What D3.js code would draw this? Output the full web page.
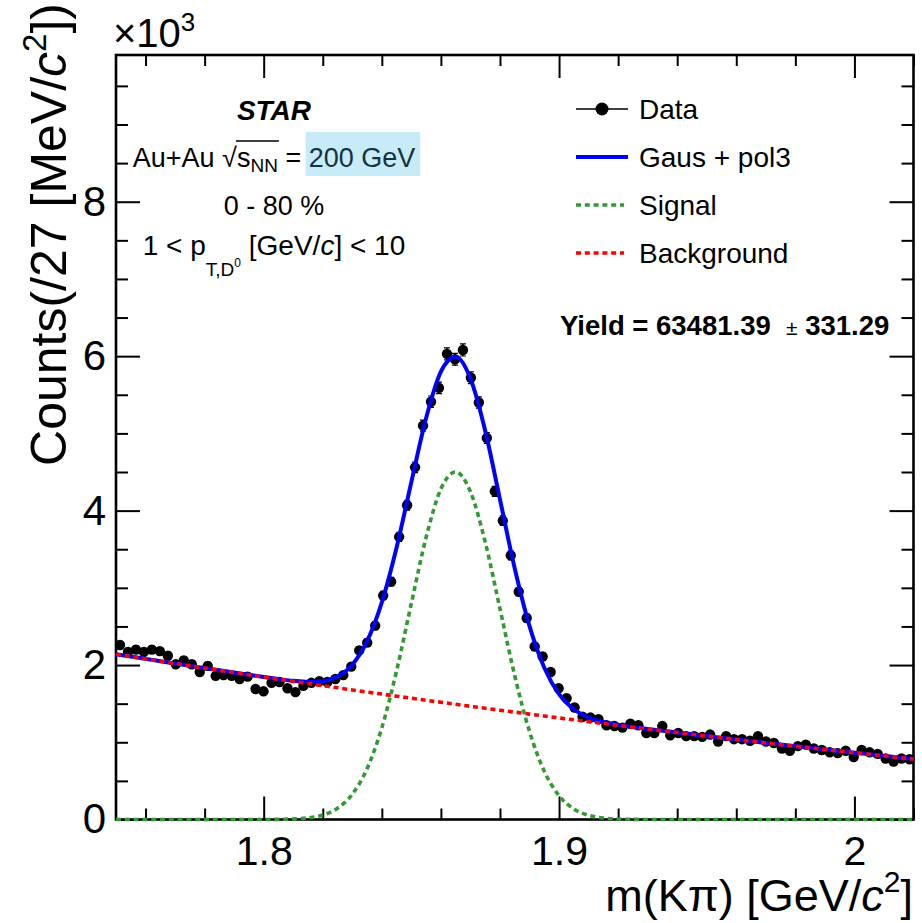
<!DOCTYPE html>
<html>
<head>
<meta charset="utf-8">
<script src="https://cdn.jsdelivr.net/npm/d3@7"></script>
<style>
body { margin: 0; background: #fff; }
svg { display: block; }
text { font-family: "Liberation Sans", Arial, Helvetica, sans-serif; fill: #000; }
</style>
</head>
<body>
<svg width="922" height="923"></svg>
<script>
// invariant mass histogram, 100 bins of 2.7 MeV from 1.75 to 2.02 GeV (counts in units of 10^3)
var massLo = 1.75, massHi = 2.02, binW = 0.0027;
var counts = [2.26, 2.17, 2.20, 2.17, 2.20, 2.18, 2.12, 2.01, 2.06, 2.01,
              1.91, 1.99, 1.86, 1.87, 1.86, 1.82, 1.85, 1.69, 1.66, 1.77,
              1.78, 1.70, 1.65, 1.73, 1.77, 1.79, 1.78, 1.82, 1.87, 1.98,
              2.19, 2.29, 2.51, 2.90, 3.08, 3.66, 4.07, 4.56, 5.10, 5.41,
              5.59, 6.03, 5.96, 6.08, 5.72, 5.40, 4.94, 4.25, 3.87, 3.42,
              2.95, 2.61, 2.24, 2.11, 1.91, 1.70, 1.57, 1.45, 1.33, 1.32,
              1.30, 1.22, 1.21, 1.19, 1.24, 1.22, 1.12, 1.12, 1.21, 1.09,
              1.12, 1.08, 1.08, 1.07, 1.10, 1.01, 1.08, 1.04, 1.04, 1.02,
              1.08, 1.01, 0.99, 0.92, 0.89, 0.95, 0.97, 0.92, 0.90, 0.87,
              0.86, 0.89, 0.81, 0.90, 0.87, 0.85, 0.79, 0.75, 0.79, 0.78];
var errs = [0.048, 0.047, 0.047, 0.047, 0.047, 0.047, 0.046, 0.045, 0.045, 0.045,
            0.044, 0.045, 0.043, 0.043, 0.043, 0.043, 0.043, 0.041, 0.041, 0.042,
            0.042, 0.041, 0.041, 0.042, 0.042, 0.042, 0.042, 0.043, 0.043, 0.044,
            0.047, 0.048, 0.050, 0.054, 0.055, 0.060, 0.064, 0.068, 0.071, 0.074,
            0.075, 0.078, 0.077, 0.078, 0.076, 0.073, 0.070, 0.065, 0.062, 0.058,
            0.054, 0.051, 0.047, 0.046, 0.044, 0.041, 0.040, 0.038, 0.036, 0.036,
            0.036, 0.035, 0.035, 0.034, 0.035, 0.035, 0.033, 0.033, 0.035, 0.033,
            0.033, 0.033, 0.033, 0.033, 0.033, 0.032, 0.033, 0.032, 0.032, 0.032,
            0.033, 0.032, 0.031, 0.030, 0.030, 0.031, 0.031, 0.030, 0.030, 0.029,
            0.029, 0.030, 0.028, 0.030, 0.029, 0.029, 0.028, 0.027, 0.028, 0.028];

// fit curves, read every 5 MeV from 1.75 to 2.02
var fitStep = 0.005;
var fitTotal = [2.140, 2.110, 2.080, 2.050, 2.020, 1.990, 1.961, 1.932, 1.903, 1.874,
                1.845, 1.819, 1.796, 1.782, 1.791, 1.851, 2.005, 2.309, 2.813, 3.523,
                4.371, 5.199, 5.799, 5.992, 5.710, 5.033, 4.144, 3.251, 2.504, 1.965,
                1.623, 1.427, 1.321, 1.262, 1.225, 1.197, 1.172, 1.149, 1.126, 1.103,
                1.080, 1.058, 1.036, 1.014, 0.992, 0.970, 0.949, 0.928, 0.907, 0.886,
                0.865, 0.845, 0.824, 0.804, 0.783];
var fitSignal = [0, 0, 0, 0, 0, 0, 0, 0, 0, 0,
                 0, 0.002, 0.007, 0.021, 0.058, 0.146, 0.327, 0.658, 1.189, 1.926,
                 2.801, 3.655, 4.281, 4.500, 4.244, 3.593, 2.729, 1.861, 1.139, 0.625,
                 0.308, 0.136, 0.054, 0.019, 0.006, 0.002, 0, 0, 0, 0,
                 0, 0, 0, 0, 0, 0, 0, 0, 0, 0,
                 0, 0, 0, 0, 0];
var fitBkg = [2.140, 2.110, 2.080, 2.050, 2.020, 1.990, 1.961, 1.932, 1.903, 1.874,
              1.845, 1.817, 1.789, 1.761, 1.733, 1.705, 1.678, 1.651, 1.624, 1.597,
              1.570, 1.544, 1.518, 1.492, 1.466, 1.440, 1.415, 1.390, 1.365, 1.340,
              1.315, 1.291, 1.267, 1.243, 1.219, 1.195, 1.172, 1.149, 1.126, 1.103,
              1.080, 1.058, 1.036, 1.014, 0.992, 0.970, 0.949, 0.928, 0.907, 0.886,
              0.865, 0.845, 0.824, 0.804, 0.783];

var xMajorTicks = [1.8, 1.9, 2.0];
var xMinorTicks = [1.76, 1.78, 1.82, 1.84, 1.86, 1.88, 1.92, 1.94, 1.96, 1.98, 2.02];
var yMajorTicks = [0, 2, 4, 6, 8];
var yMinorTicks = [0.5, 1, 1.5, 2.5, 3, 3.5, 4.5, 5, 5.5, 6.5, 7, 7.5, 8.5, 9, 9.5];

var svg = d3.select("svg");
var padL = 116, padR = 913.5, padT = 55, padB = 819.5;

var x = d3.scaleLinear().domain([massLo, massHi]).range([padL, padR]);
var y = d3.scaleLinear().domain([0, 9.9]).range([padB, padT]);

var bins = counts.map(function(c, i) {
  return { m: massLo + binW * (i + 0.5), c: c, e: errs[i] };
});
var fitPts = fitTotal.map(function(t, i) {
  return { m: massLo + fitStep * i, t: t, s: fitSignal[i], b: fitBkg[i] };
});

// ticks, ROOT style (inside the frame on all four sides)
function styleAxis(g) {
  g.select(".domain").remove();
  g.selectAll("line").attr("stroke", "#000").attr("stroke-width", 2);
}
svg.append("g").attr("transform", "translate(0," + padB + ")")
  .call(d3.axisBottom(x).tickValues(xMinorTicks).tickSize(-11).tickFormat("")).call(styleAxis);
svg.append("g").attr("transform", "translate(0," + padB + ")")
  .call(d3.axisBottom(x).tickValues(xMajorTicks).tickSize(-23).tickPadding(16)
    .tickFormat(function(d) { return d === 2 ? "2" : d3.format(".1f")(d); }))
  .call(styleAxis)
  .selectAll("text").attr("font-size", "41px").attr("font-family", null);
svg.append("g").attr("transform", "translate(0," + padT + ")")
  .call(d3.axisTop(x).tickValues(xMinorTicks).tickSize(-11).tickFormat("")).call(styleAxis);
svg.append("g").attr("transform", "translate(0," + padT + ")")
  .call(d3.axisTop(x).tickValues(xMajorTicks).tickSize(-23).tickFormat("")).call(styleAxis);

svg.append("g").attr("transform", "translate(" + padL + ",0)")
  .call(d3.axisLeft(y).tickValues(yMinorTicks).tickSize(-12).tickFormat("")).call(styleAxis);
svg.append("g").attr("transform", "translate(" + padL + ",0)")
  .call(d3.axisLeft(y).tickValues(yMajorTicks).tickSize(-24).tickPadding(10).tickFormat(d3.format("d")))
  .call(styleAxis)
  .selectAll("text").attr("font-size", "42px").attr("font-family", null);
svg.append("g").attr("transform", "translate(" + padR + ",0)")
  .call(d3.axisRight(y).tickValues(yMinorTicks).tickSize(-12).tickFormat("")).call(styleAxis);
svg.append("g").attr("transform", "translate(" + padR + ",0)")
  .call(d3.axisRight(y).tickValues(yMajorTicks).tickSize(-24).tickFormat("")).call(styleAxis);

svg.append("rect")
  .attr("x", padL).attr("y", padT)
  .attr("width", padR - padL).attr("height", padB - padT)
  .attr("fill", "none").attr("stroke", "#000").attr("stroke-width", 2.6);

// data points with stat errors
var pts = svg.append("g");
pts.selectAll(".err").data(bins).enter().append("line")
  .attr("x1", function(d) { return x(d.m); }).attr("x2", function(d) { return x(d.m); })
  .attr("y1", function(d) { return y(d.c - d.e); }).attr("y2", function(d) { return y(d.c + d.e); })
  .attr("stroke", "#000").attr("stroke-width", 1.5);
pts.selectAll(".cap").data(bins).enter().append("path")
  .attr("d", function(d) {
    var cx = x(d.m);
    return "M" + (cx - 3) + "," + y(d.c + d.e) + "H" + (cx + 3) +
           "M" + (cx - 3) + "," + y(d.c - d.e) + "H" + (cx + 3);
  })
  .attr("stroke", "#000").attr("stroke-width", 1.2);
pts.selectAll("circle").data(bins).enter().append("circle")
  .attr("cx", function(d) { return x(d.m); })
  .attr("cy", function(d) { return y(d.c); })
  .attr("r", 5.2).attr("fill", "#000");

// fits
function fitLine(key) {
  return d3.line().x(function(d) { return x(d.m); }).y(function(d) { return y(d[key]); })
    .curve(d3.curveMonotoneX);
}
svg.append("path").datum(fitPts).attr("d", fitLine("t"))
  .attr("fill", "none").attr("stroke", "#0000ff").attr("stroke-width", 4);
svg.append("path").datum(fitPts).attr("d", fitLine("b"))
  .attr("fill", "none").attr("stroke", "#ff0000").attr("stroke-width", 3.6)
  .attr("stroke-dasharray", "5,3.8");
svg.append("path").datum(fitPts).attr("d", fitLine("s"))
  .attr("fill", "none").attr("stroke", "#339933").attr("stroke-width", 3.6)
  .attr("stroke-dasharray", "5,3.8");

// axis titles
var ytitle = svg.append("text")
  .attr("transform", "translate(66,3) rotate(-90)")
  .attr("text-anchor", "end").attr("font-size", "50px");
ytitle.append("tspan").text("Counts(/27 [MeV/");
ytitle.append("tspan").attr("font-style", "italic").text("c");
ytitle.append("tspan").attr("font-size", "33px").attr("dy", -20).text("2");
ytitle.append("tspan").attr("dy", 20).text("])");

var xtitle = svg.append("text")
  .attr("x", 913).attr("y", 911)
  .attr("text-anchor", "end").attr("font-size", "45px");
xtitle.append("tspan").text("m(K\u03c0) [GeV/");
xtitle.append("tspan").attr("font-style", "italic").text("c");
xtitle.append("tspan").attr("font-size", "30px").attr("dy", -19).text("2");
xtitle.append("tspan").attr("dy", 19).text("]");

var mult = svg.append("text").attr("x", 113).attr("y", 47).attr("font-size", "40px");
mult.append("tspan").text("\u00d710");
mult.append("tspan").attr("font-size", "26px").attr("dy", -16).text("3");

// labels top left
var cx0 = 274;
svg.append("text").attr("x", cx0).attr("y", 120).attr("text-anchor", "middle")
  .attr("font-size", "28px").attr("font-weight", "bold").attr("font-style", "italic").text("STAR");

var hlLayer = svg.append("g");
var energy = svg.append("text").attr("x", cx0).attr("y", 167).attr("text-anchor", "middle")
  .attr("font-size", "27px");
energy.append("tspan").text("Au+Au ");
energy.append("tspan").text("\u221a");
energy.append("tspan").text("s");
energy.append("tspan").attr("font-size", "19px").attr("dy", 5).text("NN");
energy.append("tspan").attr("dy", -5).text(" = ");
energy.append("tspan").attr("fill", "#16323d").text("200 GeV");
var en = energy.node();
var hlX0 = en.getStartPositionOfChar(13).x, hlX1 = en.getEndPositionOfChar(19).x;
hlLayer.append("rect")
  .attr("x", hlX0 - 3).attr("y", 132).attr("width", hlX1 - hlX0 + 8).attr("height", 44)
  .attr("fill", "#c7ecf7");
var rootX1 = en.getEndPositionOfChar(6).x, nnX1 = en.getEndPositionOfChar(9).x;
svg.append("line").attr("x1", rootX1 - 1).attr("x2", nnX1 + 1)
  .attr("y1", 141).attr("y2", 141).attr("stroke", "#000").attr("stroke-width", 1.3);

svg.append("text").attr("x", cx0).attr("y", 215).attr("text-anchor", "middle")
  .attr("font-size", "27px").text("0 - 80 %");

var pt = svg.append("text").attr("x", cx0).attr("y", 255).attr("text-anchor", "middle")
  .attr("font-size", "28px");
pt.append("tspan").text("1 < p");
pt.append("tspan").attr("font-size", "19px").attr("dy", 21).text("T,D");
pt.append("tspan").attr("font-size", "12px").attr("dy", -9).text("0");
pt.append("tspan").attr("dy", -12).text(" [GeV/");
pt.append("tspan").attr("font-style", "italic").text("c");
pt.append("tspan").text("] < 10");

// legend
var lg = svg.append("g");
var legItems = ["Data", "Gaus + pol3", "Signal", "Background"];
var legY = [109, 157, 205, 253];
lg.append("line").attr("x1", 576).attr("x2", 628).attr("y1", legY[0]).attr("y2", legY[0])
  .attr("stroke", "#000").attr("stroke-width", 1.5);
lg.append("circle").attr("cx", 602).attr("cy", legY[0]).attr("r", 6.5).attr("fill", "#000");
lg.append("line").attr("x1", 576).attr("x2", 628).attr("y1", legY[1]).attr("y2", legY[1])
  .attr("stroke", "#0000ff").attr("stroke-width", 4);
lg.append("line").attr("x1", 576).attr("x2", 624).attr("y1", legY[2]).attr("y2", legY[2])
  .attr("stroke", "#339933").attr("stroke-width", 3.6).attr("stroke-dasharray", "5,3.8");
lg.append("line").attr("x1", 576).attr("x2", 624).attr("y1", legY[3]).attr("y2", legY[3])
  .attr("stroke", "#ff0000").attr("stroke-width", 3.6).attr("stroke-dasharray", "5,3.8");
lg.selectAll("text").data(legItems).enter().append("text")
  .attr("x", 639).attr("y", function(d, i) { return legY[i] + 10; })
  .attr("font-size", "28px").text(function(d) { return d; });

var yl = svg.append("text").attr("x", 560).attr("y", 335).attr("font-size", "27.5px")
  .attr("font-weight", "bold");
yl.append("tspan").text("Yield = 63481.39\u00a0 ");
yl.append("tspan").attr("font-weight", "normal").attr("font-size", "21px").text("\u00b1");
yl.append("tspan").text(" 331.29");
</script>
</body>
</html>
